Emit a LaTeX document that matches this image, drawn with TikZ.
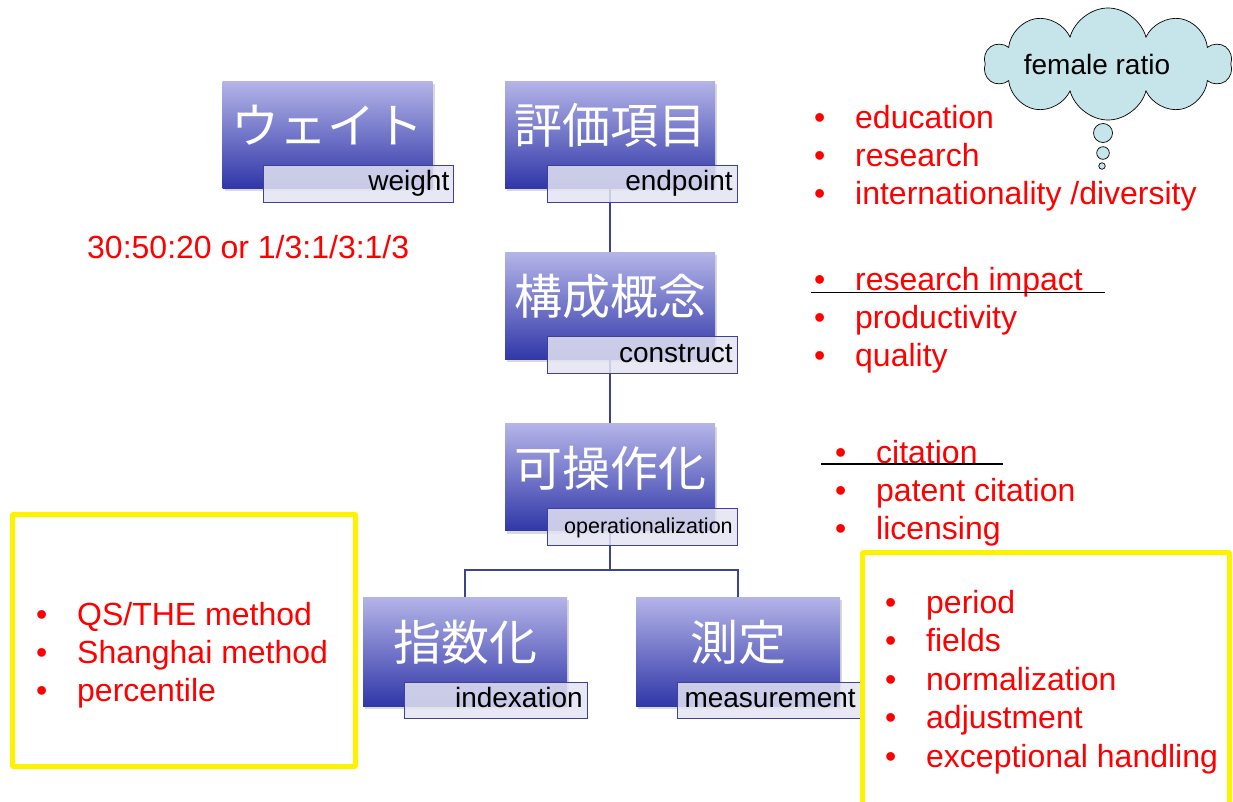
\documentclass[tikz,border=0pt]{standalone}
\usepackage{fontspec}
\setmainfont{Liberation Sans}
\newfontfamily\jpfont{Noto Sans CJK JP}
\usetikzlibrary{positioning,shadows,shapes.symbols,backgrounds}

\definecolor{jtop}{HTML}{B4B4E8}
\definecolor{jbot}{HTML}{3037A8}
\definecolor{lnblue}{HTML}{3F4197}
\definecolor{tagfill}{HTML}{E3E4F2}
\definecolor{cloudfill}{HTML}{C6E5EA}
\newcommand{\bul}{\makebox[41pt][l]{•}}

\begin{document}
\begin{tikzpicture}[x=1pt,y=-1pt,node distance=64pt]
\tikzstyle {jbox}=[rectangle, minimum width=210pt, minimum height=107pt, inner sep=0pt, top color=jtop, bottom color=jbot, drop shadow={shadow xshift=2pt, shadow yshift=-3pt, opacity=0.3}]
\tikzstyle {jboxsm}=[jbox, minimum width=204pt, minimum height=109pt]
\tikzstyle {jtxt}=[text=white, font=\jpfont\fontsize{48}{48}\selectfont, yshift=9pt]
\tikzstyle {tagbox}=[rectangle, anchor=north west, draw=lnblue, line width=0.8pt, fill=tagfill, fill opacity=0.85, text opacity=1, minimum height=37pt, text width=181pt, align=right, inner xsep=4.5pt, inner ysep=0pt, text height=20pt, text depth=6pt, font=\fontsize{28}{28}\selectfont]
\tikzstyle {tagboxsm}=[tagbox, minimum height=36pt, text width=174pt]
\tikzstyle {redtxt}=[text=red, anchor=base west, inner sep=0pt, font=\fontsize{32}{38}\selectfont]
\tikzstyle {link}=[draw=lnblue, line width=1.2pt]
\tikzstyle {ybox}=[draw=yellow, line width=5pt, rounded corners=1pt]
\tikzstyle {bubble}=[circle, draw=black, line width=0.7pt, fill=cloudfill, inner sep=0pt]
\useasboundingbox (0,0) rectangle (1233,801);

% hierarchy
\node (endp) [jbox, label={[jtxt]center:評価項目}] at (610,134.5) {};
\node (weight) [jbox, left=72pt of endp, label={[jtxt]center:ウェイト}] {};
\node (constr) [jbox, below=of endp, label={[jtxt]center:構成概念}] {};
\node (oper) [jbox, below=of constr, label={[jtxt]center:可操作化}] {};
\node (index) [jboxsm, below=66pt of oper, xshift=-145pt, label={[jtxt]center:指数化}] {};
\node (measure) [jboxsm, below=66pt of oper, xshift=128pt, label={[jtxt]center:測定}] {};

\node (weightTag) [tagbox] at ([xshift=41pt,yshift=-84pt]weight.north west) {weight};
\node (endpTag) [tagbox] at ([xshift=42pt,yshift=-84pt]endp.north west) {endpoint};
\node (constrTag) [tagbox] at ([xshift=42pt,yshift=-84pt]constr.north west) {construct};
\node (operTag) [tagbox, font=\fontsize{21.5}{21.5}\selectfont] at ([xshift=42pt,yshift=-84pt]oper.north west) {operationalization};
\node (indexTag) [tagboxsm] at ([xshift=41pt,yshift=-85pt]index.north west) {indexation};
\node (measureTag) [tagboxsm] at ([xshift=41pt,yshift=-85pt]measure.north west) {measurement};

\begin{scope}[on background layer]
\draw[link] (endp.south) -- (constr.north);
\draw[link] (constr.south) -- (oper.north);
\draw[link] (oper.south) -- ++(0,39) coordinate (fork);
\draw[link] (fork) -| (index.north);
\draw[link] (fork) -| (measure.north);
\end{scope}

% red notes
\node (ratio) [redtxt] at (87,258) {30:50:20 or 1/3:1/3:1/3};
\node (edu1) [redtxt] at (814,128) {\bul education};
\node (edu2) [redtxt] at (814,166) {\bul research};
\node (edu3) [redtxt] at (814,204) {\bul internationality /diversity};
\node (imp1) [redtxt] at (814,290) {\bul research impact};
\node (imp2) [redtxt] at (814,328) {\bul productivity};
\node (imp3) [redtxt] at (814,366) {\bul quality};
\node (cit1) [redtxt] at (835,463) {\bul citation};
\node (cit2) [redtxt] at (835,501) {\bul patent citation};
\node (cit3) [redtxt] at (835,539) {\bul licensing};
\draw[line width=1.5pt] (811,292.5) -- (1105,292.5);
\draw[line width=1.5pt] (821,464) -- (1003,464);

\node (rank1) [redtxt] at (36,625) {\bul QS/THE method};
\node (rank2) [redtxt] at (36,663) {\bul Shanghai method};
\node (rank3) [redtxt] at (36,701) {\bul percentile};
\node (meas1) [redtxt] at (885,613) {\bul period};
\node (meas2) [redtxt] at (885,651) {\bul fields};
\node (meas3) [redtxt] at (885,690) {\bul normalization};
\node (meas4) [redtxt] at (885,728) {\bul adjustment};
\node (meas5) [redtxt] at (885,767) {\bul exceptional handling};
\draw[ybox] (12.5,514.5) rectangle (355.5,766.5);
\draw[ybox] (862.5,552.5) rectangle (1229.5,815);

% thought cloud
\node (cloud) [shape=cloud, cloud puffs=10, aspect=1.8, draw=black, line width=0.7pt, fill=cloudfill, minimum width=247pt, minimum height=112pt, inner sep=0pt, label={[font=\fontsize{28}{28}\selectfont, xshift=-11pt]center:female ratio}] at (1108,64) {};
\node (puff1) [bubble, minimum size=19pt] at (1103,133) {};
\node (puff2) [bubble, minimum size=12.6pt] at (1103,153) {};
\node (puff3) [bubble, minimum size=6.5pt] at (1102,166) {};
\end{tikzpicture}
\end{document}
